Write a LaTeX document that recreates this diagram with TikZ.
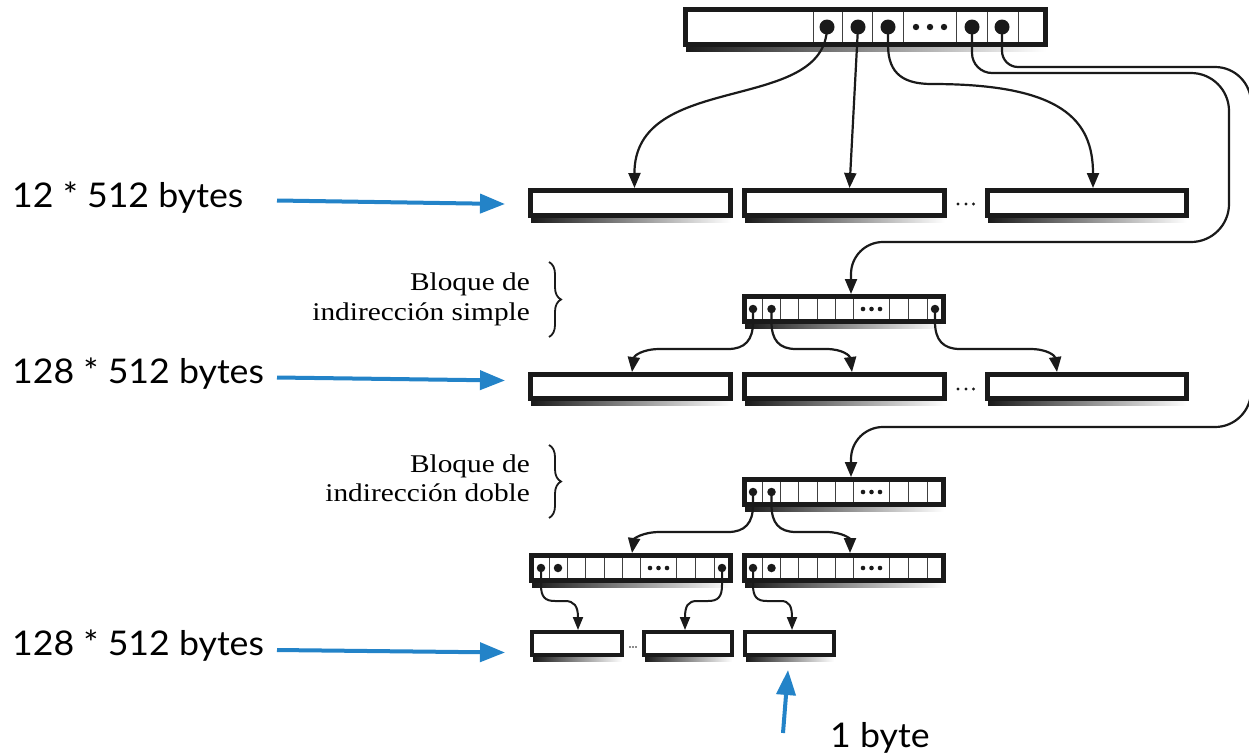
\documentclass[tikz,border=0pt]{standalone}
\usepackage{fontspec}
\usepackage{graphicx}
\newfontfamily\latofont{Lato}
\newfontfamily\serffont{Liberation Serif}
\usetikzlibrary{arrows.meta,decorations.pathreplacing}
\definecolor{bluearr}{HTML}{2383C8}
\definecolor{ink}{HTML}{1A1A1A}
\newcommand{\widelato}[1]{\scalebox{1.05}[1]{#1}}
\newcommand{\wideserif}[1]{\scalebox{1.15}[1]{#1}}
\tikzset{
  blk/.style={draw=ink,fill=white,inner sep=0pt,line width=5pt},
  blksm/.style={draw=ink,fill=white,inner sep=0pt,line width=4pt},
  shadowstrip/.style={left color=black!90,right color=white},
  cellline/.style={draw=black!75,line width=0.9pt},
  bigdot/.style={circle,fill=ink,inner sep=0pt,minimum size=15pt},
  smalldot/.style={circle,fill=ink,inner sep=0pt,minimum size=8.5pt},
  conn/.style={draw=ink,line width=2.2pt,-{Triangle[length=15pt,width=12pt]}},
  connsm/.style={draw=ink,line width=2pt,-{Triangle[length=13pt,width=10pt]}},
  barr/.style={draw=bluearr,line width=4pt,-{Triangle[length=25pt,width=19pt]}},
  sizelab/.style={inner sep=0pt,anchor=base west,font=\latofont\fontsize{34}{40}\selectfont},
  serlab/.style={inner sep=0pt,anchor=base east,font=\serffont\fontsize{25.5}{30}\selectfont},
  bracedeco/.style={draw=ink,line width=1.8pt,decorate,decoration={brace,amplitude=12pt}}
}
\begin{document}
\begin{tikzpicture}[x=1pt,y=-1pt]
\useasboundingbox (0,0) rectangle (1249,755);
\fill[white] (0,0) rectangle (1249,755);

% ---------- shadows under blocks ----------
\foreach \xa/\xb/\yb in {683/1048/47, 528/733/218, 742/947/218, 985/1189/218,
   742/946/324, 528/733/401, 742/947/401, 985/1189/401, 742/946/507,
   529/733/583, 742/946/583, 530/624/657, 642/734/657, 743/836/657}
   {\shade[shadowstrip] (\xa+3,\yb-1) rectangle (\xb-2,\yb+4);}

% ---------- blocks ----------
\node[blk,minimum width=360pt,minimum height=35pt] (topblk) at (865.5,27) {};
\node[blk,minimum width=200pt,minimum height=25pt] (rowA) at (630.5,203) {};
\node[blk,minimum width=200pt,minimum height=25pt] (rowB) at (844.5,203) {};
\node[blk,minimum width=199pt,minimum height=25pt] (rowC) at (1087,203) {};
\node[blk,minimum width=199pt,minimum height=25pt] (simpblk) at (844,309) {};
\node[blk,minimum width=200pt,minimum height=24pt] (simA) at (630.5,386.5) {};
\node[blk,minimum width=200pt,minimum height=24pt] (simB) at (844.5,386.5) {};
\node[blk,minimum width=199pt,minimum height=24pt] (simC) at (1087,386.5) {};
\node[blk,minimum width=199pt,minimum height=25pt] (dblblk) at (844,492) {};
\node[blk,minimum width=199pt,minimum height=25pt] (lvlA) at (631,568) {};
\node[blk,minimum width=199pt,minimum height=25pt] (lvlB) at (844,568) {};
\node[blksm,minimum width=90pt,minimum height=23pt] (botA) at (577,643.5) {};
\node[blksm,minimum width=88pt,minimum height=23pt] (botB) at (688,643.5) {};
\node[blksm,minimum width=89pt,minimum height=23pt] (botC) at (789.5,643.5) {};

% ---------- cell dividers ----------
\foreach \cx in {813,842,872,903,956,987,1018} {\draw[cellline] (\cx,12) -- (\cx,42);}
\foreach \cx in {762,780,798,817,835,853,889,908,927} {
   \draw[cellline] (\cx,299) -- (\cx,319);
   \draw[cellline] (\cx,482) -- (\cx,502);
   \draw[cellline] (\cx,558) -- (\cx,578);}
\foreach \cx in {549,567,585,604,622,640,676,695,714} {\draw[cellline] (\cx,558) -- (\cx,578);}

% ---------- ellipsis dots ----------
\foreach \cx in {916,930,944} {\fill[ink] (\cx,27) circle[radius=3.2];}
\foreach \cx in {863,871.5,880} {
   \fill[ink] (\cx,309) circle[radius=2.3];
   \fill[ink] (\cx,492) circle[radius=2.3];
   \fill[ink] (\cx,568) circle[radius=2.3];}
\foreach \cx in {650,658.5,667} {\fill[ink] (\cx,568) circle[radius=2.3];}
\foreach \cx in {958,966,973.5} {
   \fill[ink] (\cx,204) circle[radius=1.6];
   \fill[ink] (\cx,389) circle[radius=1.6];}
\foreach \cx in {630,633,636} {\fill[ink] (\cx,647) circle[radius=0.9];}

% ---------- pointer dots ----------
\node[bigdot] (t1) at (827,27) {};
\node[bigdot] (t2) at (858,27) {};
\node[bigdot] (t3) at (888,27) {};
\node[bigdot] (t4) at (972,27) {};
\node[bigdot] (t5) at (1002,27) {};
\node[smalldot] (s1) at (753,309) {};
\node[smalldot] (s2) at (771.5,309) {};
\node[smalldot] (s3) at (935,309) {};
\node[smalldot] (d1) at (753,492) {};
\node[smalldot] (d2) at (771.5,492) {};
\node[smalldot] (pa1) at (541,568) {};
\node[smalldot] (pa2) at (558,568) {};
\node[smalldot] (pa3) at (722,568) {};
\node[smalldot] (pb1) at (753,568) {};
\node[smalldot] (pb2) at (771.5,568) {};

% ---------- connectors ----------
\draw[conn] (t1.center) .. controls (826,115) and (634,70) .. ([xshift=4pt]rowA.north);
\draw[conn] (t2.center) -- ([xshift=5pt]rowB.north);
\draw[conn] (t3.center) -- (888,45) .. controls (888,75) and (905,84) .. (932,84)
   .. controls (1062,84) and (1093,120) .. ([xshift=6pt]rowC.north);
\draw[conn] (t4.center) [rounded corners=20pt] -- (972,73) [rounded corners=38pt] -- (1229,73)
   -- (1229,242) [rounded corners=32pt] -- (851,242) -- ([xshift=7pt]simpblk.north);
\draw[conn] (t5.center) [rounded corners=16pt] -- (1002,67) [rounded corners=36pt] -- (1251,67)
   -- (1251,427) [rounded corners=32pt] -- (851,427) -- ([xshift=7pt]dblblk.north);

\draw[conn] (s1.center) -- (753,322) .. controls (753,340) and (745,349) .. (728,349) -- (660,349)
   .. controls (642,349) and (634,356) .. ([xshift=1.5pt]simA.north);
\draw[conn] (s2.center) -- (771.5,322) .. controls (771.5,340) and (779,349) .. (796,349) -- (826,349)
   .. controls (843,349) and (850,356) .. ([xshift=7.5pt]simB.north);
\draw[conn] (s3.center) -- (935,322) .. controls (935,340) and (943,349) .. (960,349) -- (1030,349)
   .. controls (1048,349) and (1055,356) .. ([xshift=-30pt]simC.north);

\draw[conn] (d1.center) -- (753,505) .. controls (753,523) and (745,532) .. (728,532) -- (660,532)
   .. controls (642,532) and (634,539) .. ([xshift=1pt]lvlA.north);
\draw[conn] (d2.center) -- (771.5,505) .. controls (771.5,523) and (779,532) .. (796,532) -- (826,532)
   .. controls (843,532) and (850,539) .. ([xshift=6pt]lvlB.north);

\draw[connsm] (pa1.center) -- (541,585) .. controls (541,597) and (545,601) .. (555,601) -- (565,601)
   .. controls (574,601) and (578,606) .. ([xshift=1pt]botA.north);
\draw[connsm] (pa3.center) -- (722,585) .. controls (722,597) and (718,601) .. (708,601) -- (697,601)
   .. controls (688,601) and (685,606) .. ([xshift=-3pt]botB.north);
\draw[connsm] (pb1.center) -- (753,585) .. controls (753,597) and (757,601) .. (767,601) -- (781,601)
   .. controls (789,601) and (792,606) .. ([xshift=2.5pt]botC.north);

% ---------- braces and serif labels ----------
\node[serlab] (bs1) at (530,290) {\wideserif{Bloque de}};
\node[serlab] (bs2) at (530,320) {\wideserif{indirección simple}};
\coordinate (brs1) at (549,262); \coordinate (brs2) at (549,337);
\draw[bracedeco] (brs1) -- (brs2);
\node[serlab] (bd1) at (530,472) {\wideserif{Bloque de}};
\node[serlab] (bd2) at (530,501) {\wideserif{indirección doble}};
\coordinate (brd1) at (549,445); \coordinate (brd2) at (549,518);
\draw[bracedeco] (brd1) -- (brd2);

% ---------- blue annotations ----------
\node[sizelab] (L1) at (12,207) {\widelato{12 * 512 bytes}};
\node[sizelab] (L2) at (12,383) {\widelato{128 * 512 bytes}};
\node[sizelab] (L3) at (12,655) {\widelato{128 * 512 bytes}};
\node[sizelab] (L4) at (830,747) {\widelato{1 byte}};
\coordinate (a1s) at (277,200.5); \coordinate (a1e) at (505,204);
\coordinate (a2s) at (277,377.5); \coordinate (a2e) at (505,380.5);
\coordinate (a3s) at (277,650); \coordinate (a3e) at (505,652.5);
\coordinate (a4s) at (783,733); \coordinate (a4e) at (788,670);
\draw[barr] (a1s) -- (a1e);
\draw[barr] (a2s) -- (a2e);
\draw[barr] (a3s) -- (a3e);
\draw[barr] (a4s) -- (a4e);
\end{tikzpicture}
\end{document}
